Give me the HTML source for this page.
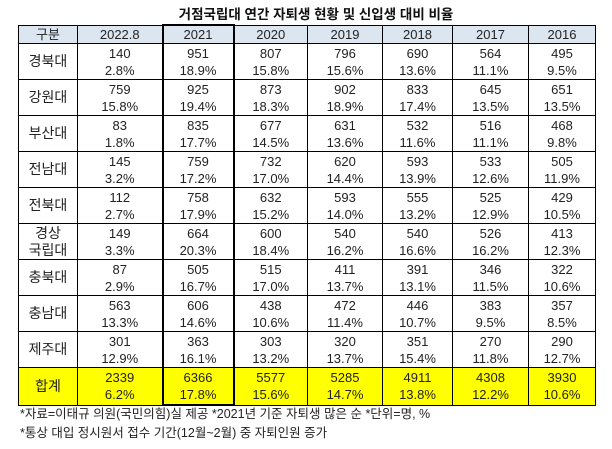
<!DOCTYPE html>
<html><head><meta charset="utf-8"><style>
body{margin:0;background:#fff;width:612px;height:449px;overflow:hidden;font-family:"Liberation Sans","Noto Sans CJK KR",sans-serif;}
.t{position:absolute;left:0;top:3px;width:612px;text-align:center;font-weight:bold;font-size:13.5px;color:#111;padding-left:20px;box-sizing:border-box}
table{position:absolute;left:18px;top:24px;border-collapse:collapse;font-size:13px;color:#222}
td{border:1px solid #000;text-align:center;padding:0;line-height:17px}
tr.h td{height:17px;background:#dce6f1}
tr.d td{height:35px}
tr.s td{background:#ffff00;height:36px}
td.n{font-size:14px}
td.k{border-left:2px solid #000;border-right:2px solid #000}
tr.h td.k{border-top:2px solid #000}
tr.s td.k{border-bottom:2px solid #000}
.f{position:absolute;left:20px;font-size:12.5px;color:#222}
</style></head><body>
<div class="t">거점국립대 연간 자퇴생 현황 및 신입생 대비 비율</div>
<table>
<colgroup><col style="width:59px"><col style="width:85px"><col style="width:71px"><col style="width:74px"><col style="width:75px"><col style="width:70px"><col style="width:76px"><col style="width:67px"></colgroup>
<tr class="h"><td>구분</td><td>2022.8</td><td class="k">2021</td><td>2020</td><td>2019</td><td>2018</td><td>2017</td><td>2016</td></tr>
<tr class="d"><td class="n">경북대</td><td>140<br>2.8%</td><td class="k">951<br>18.9%</td><td>807<br>15.8%</td><td>796<br>15.6%</td><td>690<br>13.6%</td><td>564<br>11.1%</td><td>495<br>9.5%</td></tr>
<tr class="d"><td class="n">강원대</td><td>759<br>15.8%</td><td class="k">925<br>19.4%</td><td>873<br>18.3%</td><td>902<br>18.9%</td><td>833<br>17.4%</td><td>645<br>13.5%</td><td>651<br>13.5%</td></tr>
<tr class="d"><td class="n">부산대</td><td>83<br>1.8%</td><td class="k">835<br>17.7%</td><td>677<br>14.5%</td><td>631<br>13.6%</td><td>532<br>11.6%</td><td>516<br>11.1%</td><td>468<br>9.8%</td></tr>
<tr class="d"><td class="n">전남대</td><td>145<br>3.2%</td><td class="k">759<br>17.2%</td><td>732<br>17.0%</td><td>620<br>14.4%</td><td>593<br>13.9%</td><td>533<br>12.6%</td><td>505<br>11.9%</td></tr>
<tr class="d"><td class="n">전북대</td><td>112<br>2.7%</td><td class="k">758<br>17.9%</td><td>632<br>15.2%</td><td>593<br>14.0%</td><td>555<br>13.2%</td><td>525<br>12.9%</td><td>429<br>10.5%</td></tr>
<tr class="d"><td class="n">경상<br>국립대</td><td>149<br>3.3%</td><td class="k">664<br>20.3%</td><td>600<br>18.4%</td><td>540<br>16.2%</td><td>540<br>16.6%</td><td>526<br>16.2%</td><td>413<br>12.3%</td></tr>
<tr class="d"><td class="n">충북대</td><td>87<br>2.9%</td><td class="k">505<br>16.7%</td><td>515<br>17.0%</td><td>411<br>13.7%</td><td>391<br>13.1%</td><td>346<br>11.5%</td><td>322<br>10.6%</td></tr>
<tr class="d"><td class="n">충남대</td><td>563<br>13.3%</td><td class="k">606<br>14.6%</td><td>438<br>10.6%</td><td>472<br>11.4%</td><td>446<br>10.7%</td><td>383<br>9.5%</td><td>357<br>8.5%</td></tr>
<tr class="d"><td class="n">제주대</td><td>301<br>12.9%</td><td class="k">363<br>16.1%</td><td>303<br>13.2%</td><td>320<br>13.7%</td><td>351<br>15.4%</td><td>270<br>11.8%</td><td>290<br>12.7%</td></tr>
<tr class="s"><td class="n">합계</td><td>2339<br>6.2%</td><td class="k">6366<br>17.8%</td><td>5577<br>15.6%</td><td>5285<br>14.7%</td><td>4911<br>13.8%</td><td>4308<br>12.2%</td><td>3930<br>10.6%</td></tr>
</table>
<div class="f" style="top:403px">*자료=이태규 의원(국민의힘)실 제공 *2021년 기준 자퇴생 많은 순 *단위=명, %</div>
<div class="f" style="top:422px">*통상 대입 정시원서 접수 기간(12월~2월) 중 자퇴인원 증가</div>
</body></html>
